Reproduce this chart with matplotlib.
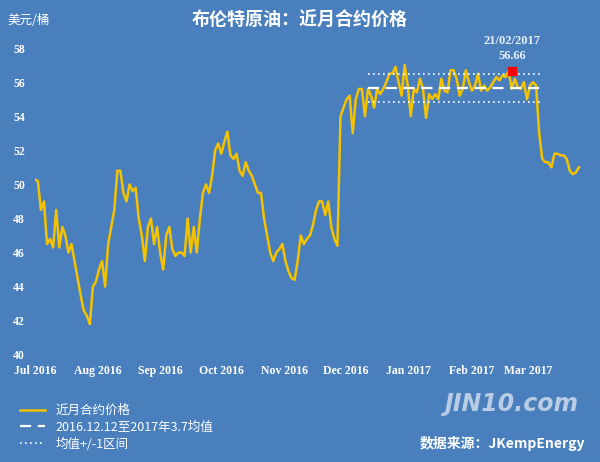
import matplotlib
matplotlib.use("Agg")
import matplotlib.pyplot as plt
import pandas as pd

prices = [50.3, 50.2, 48.5, 49, 46.5, 46.8, 46.3, 48.5, 46.3, 47.5, 47, 46, 46.5, 45.5, 44.5, 43.5,
          42.6, 42.3, 41.8, 44, 44.3, 45, 45.5, 44, 46.5, 47.5, 48.5, 50.8, 50.8, 49.5, 49, 50, 49.6,
          49.8, 48, 47, 45.5, 47.5, 48, 46.5, 47.5, 46, 45, 47, 47.5, 46.2, 45.8, 46, 46, 45.8, 48,
          46, 47.5, 46, 48, 49.5, 50, 49.5, 50.5, 52, 52.4, 51.8, 52.5, 53.1, 51.7, 51.5, 51.8, 50.8,
          50.5, 51.3, 50.8, 50.5, 50, 49.5, 49.5, 48, 47, 46, 45.5, 46, 46.2, 46.5, 45.5, 44.9, 44.5, 44.4,
          45.5, 47, 46.5, 46.8, 47, 47.6, 48.5, 49, 49, 48.2, 49, 47.5, 46.8, 46.4, 54, 54.5, 55, 55.2, 53,
          55, 55.6, 55.6, 54, 55.6, 55.2, 54.5, 55.6, 55.3, 55.6, 56, 56.5, 56.5, 56.9, 56, 55.2, 57,
          55.8, 54, 55.6, 55.4, 56.2, 55.6, 53.9, 55.3, 55, 55.3, 55, 56.2, 55.5, 55.4, 56.7, 56.7,
          56.2, 55.2, 55.6, 56.7, 56, 55.5, 55.8, 56.5, 55.5, 55.8, 55.5, 55.7, 56, 56.3, 56.1, 56.4,
          56.3, 56.66, 55.6, 56.2, 55.7, 55.6, 56, 55, 55.8, 56, 55.8, 53, 51.5, 51.3, 51.3, 51,
          51.8, 51.8, 51.7, 51.7, 51.5, 50.8, 50.6, 50.7, 51]
start_date, end_date = "2016-07-01", "2017-03-26"
peak_date, peak_value = "2017-02-21", 56.66
mean_start, mean_end = "2016-12-12", "2017-03-07"
mean_value, band = 55.65, 0.8
month_ticks = ["2016-07-01", "2016-08-01", "2016-09-01", "2016-10-01", "2016-11-01",
               "2016-12-01", "2017-01-01", "2017-02-01", "2017-03-01"]
month_labels = ["Jul 2016", "Aug 2016", "Sep 2016", "Oct 2016", "Nov 2016",
                "Dec 2016", "Jan 2017", "Feb 2017", "Mar 2017"]

cjk = ["Noto Sans CJK SC", "DejaVu Sans"]
bg = "#4a7fbd"
fig = plt.figure(figsize=(6, 4.62), dpi=100, facecolor=bg)
ax = fig.add_axes([0.058, 0.232, 0.917, 0.664], facecolor=bg)
dates = pd.date_range(start_date, end_date, periods=len(prices))
l1, = ax.plot(dates, prices, color="#f5c200", lw=1.8)
ms, me = pd.Timestamp(mean_start), pd.Timestamp(mean_end)
l2, = ax.plot([ms, me], [mean_value]*2, color="white", lw=1.6, ls=(0, (5, 3)))
l3, = ax.plot([ms, me], [mean_value+band]*2, color="white", lw=1.2, ls=(0, (1, 2)))
ax.plot([ms, me], [mean_value-band]*2, color="white", lw=1.2, ls=(0, (1, 2)))
pk = pd.Timestamp(peak_date)
ax.plot([pk], [peak_value], marker="s", color="red", ms=6, zorder=5)
ax.text(pk, peak_value+1.6, pk.strftime("%d/%m/%Y"), color="#e6eef8", ha="center",
        fontsize=9, family="Liberation Serif", weight="bold")
ax.text(pk, peak_value+0.7, f"{peak_value:.2f}", color="#e6eef8", ha="center",
        fontsize=9, family="Liberation Serif", weight="bold")

ax.set_xlim(pd.Timestamp("2016-07-01"), pd.Timestamp("2017-03-29"))
ax.set_ylim(40, 58)
ax.set_yticks(range(40, 59, 2))
ax.set_xticks([pd.Timestamp(t) for t in month_ticks])
ax.set_xticklabels(month_labels)
for lab in ax.get_xticklabels() + ax.get_yticklabels():
    lab.set_family("Liberation Serif"); lab.set_color("white"); lab.set_fontsize(8.5); lab.set_weight("bold")
ax.tick_params(length=0, pad=7)
for s in ax.spines.values():
    s.set_visible(False)

fig.text(0.5, 0.955, "布伦特原油：近月合约价格", ha="center", va="center", color="white",
         fontsize=13, weight="bold", family=cjk)
fig.text(0.012, 0.955, "美元/桶", ha="left", va="center", color="white", fontsize=9, family=cjk)
leg = fig.legend([l1, l2, l3], ["近月合约价格", "2016.12.12至2017年3.7均值", "均值+/-1区间"],
                 loc="lower left", bbox_to_anchor=(0.015, 0.0), frameon=False,
                 prop={"family": cjk, "size": 9}, handlelength=2, labelspacing=0.3)
for t in leg.get_texts():
    t.set_color("white")
fig.text(0.965, 0.11, "JIN10.com", ha="right", color="#b8cce4", fontsize=17, style="italic",
         weight="bold", family="DejaVu Sans")
fig.text(0.975, 0.03, "数据来源：JKempEnergy", ha="right", color="white", fontsize=10,
         weight="bold", family=cjk)
fig.savefig("out.png", dpi=100, facecolor=bg)
